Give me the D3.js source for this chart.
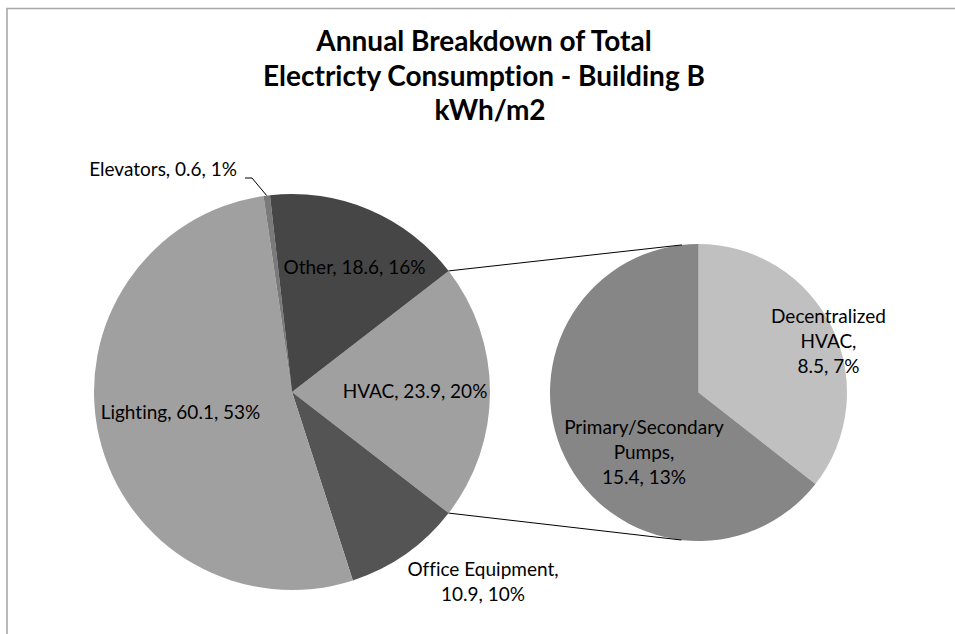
<!DOCTYPE html>
<html><head><meta charset="utf-8">
<script src="https://cdn.jsdelivr.net/npm/d3@7"></script>
<style>
body{margin:0;background:#fff}
svg text{font-family:Lato,"Open Sans",sans-serif;fill:#000;font-variant-ligatures:none;font-feature-settings:"liga" 0,"clig" 0}
</style>
</head><body>
<svg id="chart" width="955" height="634"></svg>
<script>
// ---- data ----
const mainCategories = ["HVAC", "Office Equipment", "Lighting", "Elevators", "Other"];
const mainValues = [23.9, 10.9, 60.1, 0.6, 18.6];
const mainPercents = ["20%", "10%", "53%", "1%", "16%"];
const subCategories = ["Decentralized HVAC", "Primary/Secondary Pumps"];
const subValues = [8.5, 15.4];
const subPercents = ["7%", "13%"];
const titleLines = ["Annual Breakdown of Total", "Electricty Consumption - Building B", "kWh/m2"];

// ---- styles / layout ----
const mainColors = ["#a0a0a0", "#545454", "#a0a0a0", "#7a7a7a", "#464646"];
const subColors = ["#c0c0c0", "#868686"];
const mainCenter = [292, 392], mainR = 198;
const subCenter = [698.5, 392.5], subR = 148.5;
const labelFont = 19, lineH = 25;
// label anchors relative to each pie centre: [dx, dy of first baseline, anchor, breaks]
const mainLabelLayout = [
  {dx: 123, dy: 6, anchor: "middle", breaks: []},
  {dx: 191, dy: 184, anchor: "middle", breaks: ["Equipment, "]},
  {dx: -111.5, dy: 27, anchor: "middle", breaks: []},
  {dx: -55, dy: -216, anchor: "end", breaks: []},
  {dx: 62.5, dy: -118, anchor: "middle", breaks: []}
];
const subLabelLayout = [
  {dx: 130, dy: -70, anchor: "middle", breaks: ["Decentralized ", "HVAC, "]},
  {dx: -54.5, dy: 41, anchor: "middle", breaks: ["Secondary ", "Pumps, "]}
];

const svg = d3.select("#chart");

// border (top + left only visible)
svg.append("path").attr("d", "M7,634V8.5H955")
  .attr("fill", "none").attr("stroke", "#a8a8a8").attr("stroke-width", 1.6);

// title
svg.append("g").selectAll("text").data(titleLines).join("text")
  .attr("x", (d, i) => i === 2 ? 490 : 484)
  .attr("y", (d, i) => 51 + i * 34.5)
  .attr("text-anchor", "middle")
  .attr("font-size", 28).attr("font-weight", "bold")
  .text(d => d);

// main pie
const total = d3.sum(mainValues);
const hvacAngle = mainValues[0] / total * 2 * Math.PI;
const mainPie = d3.pie().sort(null).value(d => d)
  .startAngle(Math.PI / 2 - hvacAngle / 2)
  .endAngle(Math.PI / 2 - hvacAngle / 2 + 2 * Math.PI);
const mainArcs = mainPie(mainValues);
const mainArc = d3.arc().innerRadius(0).outerRadius(mainR);
const gMain = svg.append("g").attr("transform", `translate(${mainCenter})`);
gMain.selectAll("path").data(mainArcs).join("path")
  .attr("d", mainArc).attr("fill", (d, i) => mainColors[i]);

// second pie
const subPie = d3.pie().sort(null).value(d => d);
const subArcs = subPie(subValues);
const subArc = d3.arc().innerRadius(0).outerRadius(subR);
const gSub = svg.append("g").attr("transform", `translate(${subCenter})`);
gSub.selectAll("path").data(subArcs).join("path")
  .attr("d", subArc).attr("fill", (d, i) => subColors[i]);

// connector lines: from HVAC wedge edges, tangent to second pie
function edgePoint(a) { return [mainCenter[0] + mainR * Math.sin(a), mainCenter[1] - mainR * Math.cos(a)]; }
function tangentPoint(p, upper) {
  const vx = p[0] - subCenter[0], vy = p[1] - subCenter[1];
  const d = Math.hypot(vx, vy);
  const base = Math.atan2(vy, vx);
  const off = Math.acos(subR / d);
  const a = upper ? base + off : base - off;
  return [subCenter[0] + subR * Math.cos(a), subCenter[1] + subR * Math.sin(a)];
}
const pTop = edgePoint(mainArcs[0].startAngle), pBot = edgePoint(mainArcs[0].endAngle);
[[pTop, tangentPoint(pTop, true)], [pBot, tangentPoint(pBot, false)]].forEach(seg => {
  svg.append("line").attr("x1", seg[0][0]).attr("y1", seg[0][1])
    .attr("x2", seg[1][0]).attr("y2", seg[1][1])
    .attr("stroke", "#000").attr("stroke-width", 1);
});

// labels
function fmt(name, v, p, breaks) {
  let s = `${name}, ${v}, ${p}`;
  breaks.forEach(b => { s = s.replace(b, b.trimEnd() + "|"); });
  return s.split("|");
}
function drawLabels(g, cats, vals, pcts, layout) {
  cats.forEach((c, i) => {
    const L = layout[i];
    const t = g.append("text").attr("text-anchor", L.anchor).attr("font-size", labelFont);
    fmt(c, vals[i], pcts[i], L.breaks).forEach((line, j) => {
      t.append("tspan").attr("x", L.dx).attr("y", L.dy + j * lineH).text(line);
    });
  });
}
drawLabels(gMain, mainCategories, mainValues, mainPercents, mainLabelLayout);
drawLabels(gSub, subCategories, subValues, subPercents, subLabelLayout);

// elevators leader line
const elev = mainArcs[3];
const ea = (elev.startAngle + elev.endAngle) / 2;
const ep = [mainR * Math.sin(ea), -mainR * Math.cos(ea)];
const lx = mainLabelLayout[3].dx, ly = mainLabelLayout[3].dy;
gMain.append("polyline")
  .attr("points", [[lx + 8, ly + 2], [lx + 15, ly + 2], ep].map(p => p.join(",")).join(" "))
  .attr("fill", "none").attr("stroke", "#000").attr("stroke-width", 1);
</script>
</body></html>
